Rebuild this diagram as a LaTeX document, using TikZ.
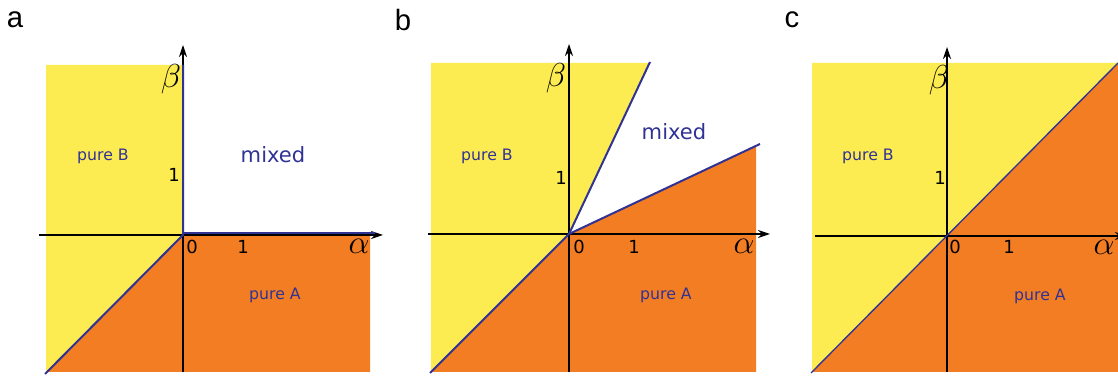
\documentclass[tikz,border=0pt]{standalone}
\usepackage{fontspec}
\setmainfont{DejaVu Sans}
\newfontfamily\panelfont{Liberation Sans}
\usetikzlibrary{arrows.meta}

\definecolor{pureB}{RGB}{252,236,82}
\definecolor{pureA}{RGB}{243,125,34}
\definecolor{bound}{RGB}{48,50,148}

\tikzset{
  axis/.style={-{Stealth[length=9pt,width=6pt]},line width=1.3pt},
  border/.style={draw=bound,line width=1.5pt},
  region/.style={text=bound,font=\fontsize{11.8}{14}\selectfont},
  bigregion/.style={text=bound,font=\fontsize{15.8}{18}\selectfont},
  tick/.style={font=\fontsize{13.5}{16}\selectfont},
  var/.style={font=\fontsize{25}{28}\selectfont},
  letter/.style={font=\panelfont\fontsize{22}{24}\selectfont}
}

\begin{document}
\begin{tikzpicture}[x=0.75pt,y=0.75pt]
\useasboundingbox (0,0) rectangle (1118,377);

% panel a
\node[letter] (la) at (15,357) {a};
\begin{scope}[shift={(183,142)}]
\fill[pureB] (-137,-137) -- (0,0) -- (0,170) -- (-137,170) -- cycle;
\fill[pureA] (-137,-137) -- (0,0) -- (187,0) -- (187,-137) -- cycle;
\draw[axis] (-144,0) -- (200,0);
\draw[axis] (0,-137) -- (0,190);
\draw[border] (-138,-139) -- (0,0) -- (0,170);
\draw[border] (0,1.5) -- (192,1.5);
\node[var] (ba) at (-12,156) {$\beta$};
\node[var] (aa) at (176,-11) {$\alpha$};
\node[tick] (oa) at (9,-12) {0};
\node[tick] (xa) at (60,-12) {1};
\node[tick] (ya) at (-9,60) {1};
\node[region] (pBa) at (-80,79) {pure B};
\node[bigregion] (ma) at (90,80) {mixed};
\node[region] (pAa) at (92,-60) {pure A};
\end{scope}

% panel b
\node[letter] (lb) at (403,357) {b};
\begin{scope}[shift={(569,143)}]
\fill[pureB] (-138,-138) -- (0,0) -- (81,171) -- (-138,171) -- cycle;
\fill[pureA] (-138,-138) -- (0,0) -- (187,88) -- (187,-138) -- cycle;
\draw[axis] (-141,0) -- (201,0);
\draw[axis] (0,-138) -- (0,190);
\draw[border] (-139,-139) -- (0,0) -- (81,172);
\draw[border] (0,0) -- (191,90);
\node[var] (bb) at (-13,156) {$\beta$};
\node[var] (ab) at (175,-12) {$\alpha$};
\node[tick] (ob) at (10,-13) {0};
\node[tick] (xb) at (65,-13) {1};
\node[tick] (yb) at (-8,56) {1};
\node[region] (pBb) at (-82,78) {pure B};
\node[bigregion] (mb) at (105,102) {mixed};
\node[region] (pAb) at (97,-61) {pure A};
\end{scope}

% panel c
\node[letter] (lc) at (792,357) {c};
\begin{scope}[shift={(947,141)}]
\fill[pureB] (-135,-136) -- (171,173) -- (-135,173) -- cycle;
\fill[pureA] (-135,-136) -- (171,173) -- (171,-136) -- cycle;
\draw[axis] (-132,0) -- (180,0);
\draw[axis] (0,-136) -- (0,189);
\draw[border,line width=1pt] (-136,-137) -- (171,173);
\node[var] (bc) at (-8,156) {$\beta$};
\node[var] (ac) at (157,-11) {$\alpha$};
\node[tick] (oc) at (8,-11) {0};
\node[tick] (xc) at (62,-11) {1};
\node[tick] (yc) at (-7,58) {1};
\node[region] (pBc) at (-79,80) {pure B};
\node[region] (pAc) at (93,-60) {pure A};
\end{scope}
\end{tikzpicture}
\end{document}
